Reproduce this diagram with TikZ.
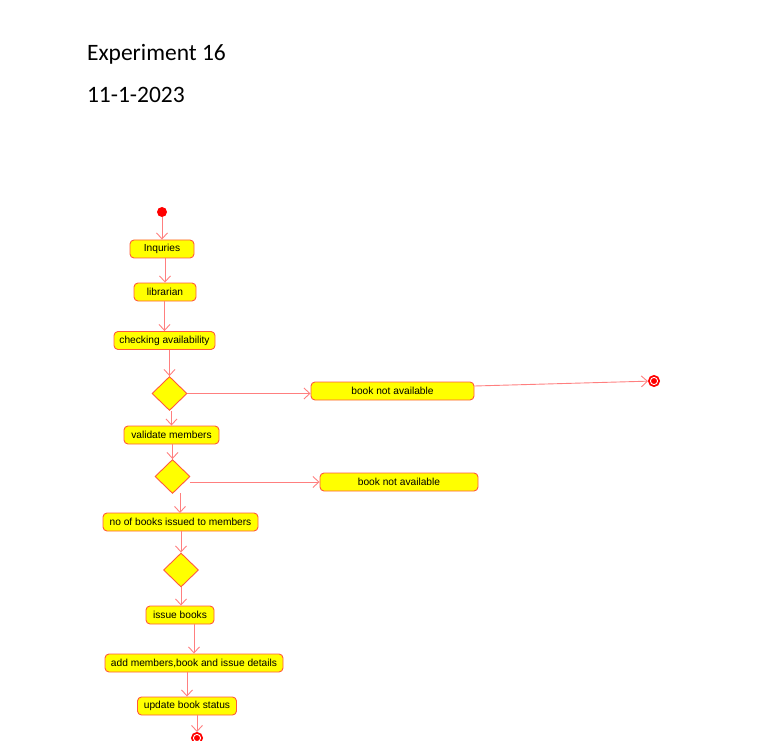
\documentclass[tikz,border=0pt]{standalone}
\usepackage{fontspec}
\setmainfont{Liberation Sans}
\newfontfamily\titlefont{Carlito}
\usetikzlibrary{shapes.geometric,arrows.meta}
\definecolor{actfill}{HTML}{FFFF00}
\definecolor{actline}{HTML}{FF5A3C}
\definecolor{flowline}{HTML}{FF7F7F}
\begin{document}
\begin{tikzpicture}[x=1pt, y=-1pt,
    act/.style={draw=actline, fill=actfill, rounded corners=4pt, minimum height=18pt,
        inner sep=1pt, line width=0.9pt, font=\fontsize{10.2}{12}\selectfont},
    dec/.style={diamond, draw=actline, fill=actfill, line width=0.9pt, inner sep=0pt,
        minimum width=35pt, minimum height=34pt},
    flow/.style={draw=flowline, line width=0.9pt, -{Straight Barb[length=6pt, width=11pt]}},
    endst/.style={circle, draw=red, fill=red, line width=1pt, minimum size=11pt, inner sep=0pt,
        path picture={\draw[white, line width=0.9pt] (path picture bounding box.center) circle (3.6pt);}}]
    \useasboundingbox (0,0) rectangle (772,741);
    % heading
    \node[anchor=base west, font=\titlefont\fontsize{23.5}{28}\selectfont] (expno) at (83.5,60.5) {Experiment 16};
    \node[anchor=base west, font=\titlefont\fontsize{23.5}{28}\selectfont] (expdate) at (83.5,102.5) {11-1-2023};
    % activities
    \node[circle, fill=red, minimum size=10pt, inner sep=0pt] (start) at (162,212) {};
    \node[act, minimum width=64pt] (inq) at (162,249) {Inquries};
    \node[act, minimum width=62pt] (lib) at (165,292) {librarian};
    \node[act, minimum width=101pt] (check) at (164.5,340.5) {checking availability};
    \node[dec] (d1) at (169.5,393.5) {};
    \node[act, minimum width=163pt] (na1) at (392.5,391) {book not available};
    \node[endst] (end1) at (654,381) {};
    \node[act, minimum width=95pt] (valid) at (171.5,435) {validate members};
    \node[dec] (d2) at (172.5,476.5) {};
    \node[act, minimum width=158pt] (na2) at (399,482) {book not available};
    \node[act, minimum width=155pt] (nob) at (180.5,522) {no of books issued to members};
    \node[dec] (d3) at (181,570) {};
    \node[act, minimum width=68pt] (issue) at (180,615) {issue books};
    \node[act, minimum width=178pt] (add) at (194,663) {add members,book and issue details};
    \node[act, minimum width=99pt] (upd) at (187,706) {update book status};
    \node[endst] (end2) at (197,738) {};
    % flows
    \draw[flow] (start) -- (inq);
    \draw[flow] (inq.south -| lib.north) -- (lib.north);
    \draw[flow] (lib.south -| check.north) -- (check.north);
    \draw[flow] (check.south -| d1.north) -- (d1.north);
    \draw[flow] (d1.east) -- (d1.east -| na1.west);
    \draw[flow] ([yshift=5pt]na1.east) -- (end1);
    \draw[flow] (d1.south -| valid.north) -- (valid.north);
    \draw[flow] (valid.south -| d2.north) -- (d2.north);
    \draw[flow] (na2.west -| d2.east) -- (na2.west);
    \draw[flow] (180,493) -- (180,513);
    \draw[flow] (nob.south -| d3.north) -- (d3.north);
    \draw[flow] (d3.south) -- (d3.south |- issue.north);
    \draw[flow] (issue.south -| add.north) -- (add.north);
    \draw[flow] (add.south -| upd.north) -- (upd.north);
    \draw[flow] (upd.south -| end2) -- (end2);
\end{tikzpicture}
\end{document}
